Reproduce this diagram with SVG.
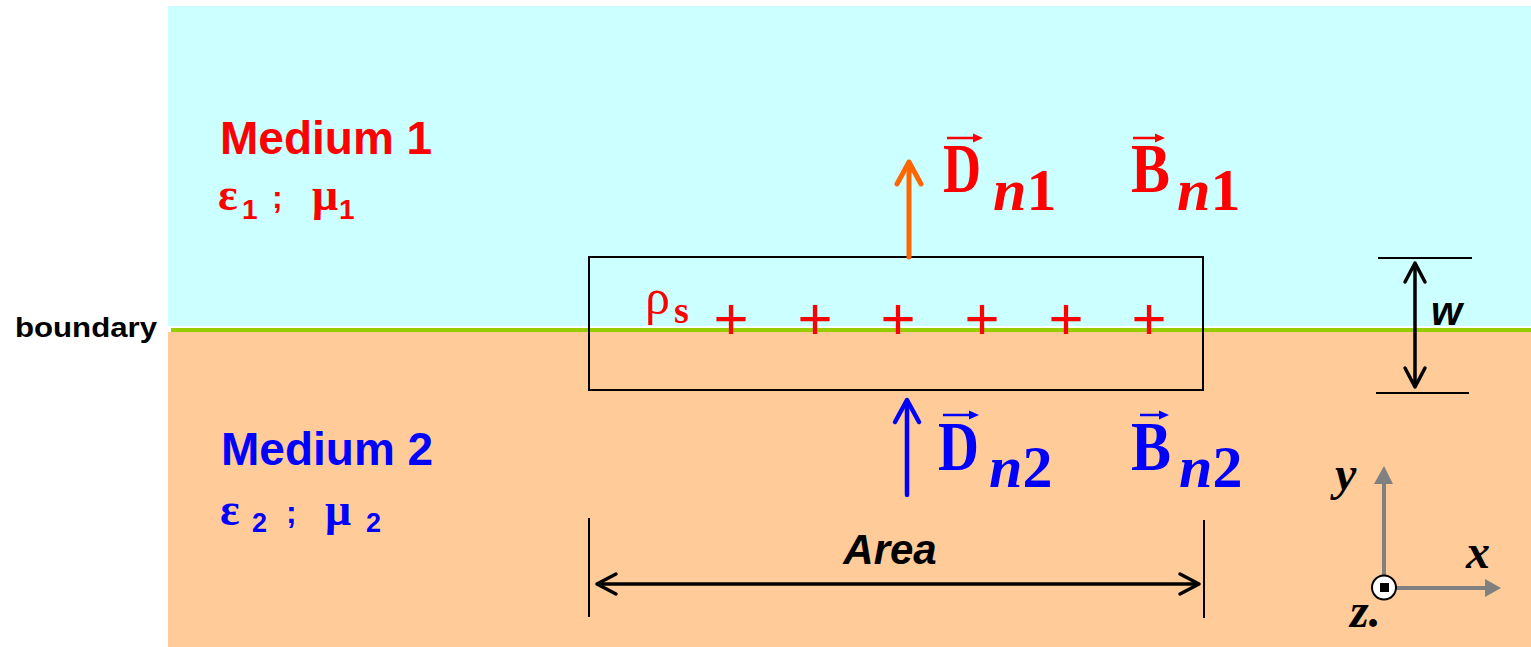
<svg xmlns="http://www.w3.org/2000/svg" width="1531" height="647" viewBox="0 0 1531 647">
<style>
.sans{font-family:"Liberation Sans",Arial,sans-serif;font-weight:bold}
.serif{font-family:"Liberation Serif","Times New Roman",serif}
.greek{font-family:"Liberation Serif","Times New Roman",serif;font-weight:bold;font-size:46px}
.big{font-family:"Liberation Serif","Times New Roman",serif;font-weight:bold;font-size:70px}
.sub{font-family:"Liberation Serif","Times New Roman",serif;font-weight:bold;font-size:60px}
.red{fill:#FF0000}
.blue{fill:#0000FF}
.thin{stroke:#000;stroke-width:2;fill:none}
.dim{stroke:#000;stroke-width:3.5;fill:none;stroke-linecap:round;stroke-linejoin:round}
.vec{stroke-width:2.5;fill:none}
.axis{stroke:#808080;stroke-width:4;fill:none}
.plus{font-family:"Liberation Sans",Arial,sans-serif;font-size:60px;fill:#FF0000;text-anchor:middle}
</style>
<rect width="1531" height="647" fill="#FFFFFF"/>
<g id="medium1-region"><rect x="168" y="6" width="1363" height="320" fill="#CCFFFF"/></g>
<g id="medium2-region"><rect x="168" y="332" width="1363" height="315" fill="#FFCC99"/></g>
<g id="boundary-line"><rect x="171" y="328" width="1360" height="4" fill="#99CC00"/></g>
<g id="boundary-label"><text x="15" y="337" class="sans" font-size="28" textLength="142" lengthAdjust="spacingAndGlyphs" fill="#000">boundary</text></g>

<g id="medium1-label">
<text x="220" y="154" class="sans red" font-size="46">Medium 1</text>
<text x="218" y="210" class="greek red">ε</text>
<text x="242" y="219" class="sans red" font-size="28">1</text>
<text x="272" y="208" class="sans red" font-size="32">;</text>
<text x="312" y="210" class="greek red">μ</text>
<text x="339" y="219" class="sans red" font-size="28">1</text>
</g>

<g id="medium2-label">
<text x="221" y="465" class="sans blue" font-size="46">Medium 2</text>
<text x="220" y="525" class="greek blue">ε</text>
<text x="252" y="532" class="sans blue" font-size="27">2</text>
<text x="286" y="523" class="sans blue" font-size="32">;</text>
<text x="325" y="525" class="greek blue">μ</text>
<text x="366" y="532" class="sans blue" font-size="27">2</text>
</g>

<g id="pillbox">
<rect x="589" y="257" width="614" height="133" class="thin"/>
</g>

<g id="surface-charge">
<text x="645" y="314" class="serif red" font-size="50">ρ</text>
<text x="674" y="323" class="serif red" font-size="38" font-weight="bold">s</text>
<text x="731" y="339" class="plus">+</text>
<text x="815" y="339" class="plus">+</text>
<text x="898" y="339" class="plus">+</text>
<text x="982" y="339" class="plus">+</text>
<text x="1066" y="339" class="plus">+</text>
<text x="1149" y="339" class="plus">+</text>
</g>

<g id="Dn1">
<text x="943" y="192" class="big red" textLength="38" lengthAdjust="spacingAndGlyphs">D</text>
<text x="993" y="210" class="sub red"><tspan font-style="italic">n</tspan>1</text>
<line x1="947" y1="138" x2="975" y2="138" class="vec" stroke="#FF0000"/>
<polygon points="973,133.5 983,138 973,142.5" class="red"/>
</g>
<g id="Bn1">
<text x="1131" y="192" class="big red" textLength="39" lengthAdjust="spacingAndGlyphs">B</text>
<text x="1177" y="210" class="sub red"><tspan font-style="italic">n</tspan>1</text>
<line x1="1133" y1="138" x2="1157" y2="138" class="vec" stroke="#FF0000"/>
<polygon points="1155,133.5 1165,138 1155,142.5" class="red"/>
</g>
<g id="Dn2">
<text x="938" y="470" class="big blue" textLength="41" lengthAdjust="spacingAndGlyphs">D</text>
<text x="989" y="487" class="sub blue"><tspan font-style="italic">n</tspan>2</text>
<line x1="943" y1="415" x2="971" y2="415" class="vec" stroke="#0000FF"/>
<polygon points="969,410.5 979,415 969,419.5" class="blue"/>
</g>
<g id="Bn2">
<text x="1131" y="470" class="big blue" textLength="40" lengthAdjust="spacingAndGlyphs">B</text>
<text x="1179" y="487" class="sub blue"><tspan font-style="italic">n</tspan>2</text>
<line x1="1140" y1="415" x2="1161" y2="415" class="vec" stroke="#0000FF"/>
<polygon points="1159,410.5 1169,415 1159,419.5" class="blue"/>
</g>

<g id="connectors">
<g id="D1-arrow" stroke="#FF6600" stroke-width="5" fill="none" stroke-linecap="round" stroke-linejoin="round">
<line x1="909" y1="257" x2="909" y2="163"/>
<polyline points="897,184 909,162 921,184"/>
</g>
<g id="D2-arrow" stroke="#0000FF" stroke-width="4.5" fill="none" stroke-linecap="round" stroke-linejoin="round">
<line x1="907" y1="495" x2="907" y2="401"/>
<polyline points="895,422 907,400 919,422"/>
</g>
<g id="w-dimension">
<line x1="1378" y1="258" x2="1472" y2="258" class="thin"/>
<line x1="1376" y1="393" x2="1469" y2="393" class="thin"/>
<line x1="1415" y1="264" x2="1415" y2="386" class="dim"/>
<polyline points="1405,282 1415,263 1425,282" class="dim"/>
<polyline points="1405,368 1415,387 1425,368" class="dim"/>
</g>
<g id="area-dimension">
<line x1="589" y1="518" x2="589" y2="617" class="thin"/>
<line x1="1204" y1="520" x2="1204" y2="618" class="thin"/>
<line x1="598" y1="584" x2="1198" y2="584" class="dim"/>
<polyline points="616,574 597,584 616,594" class="dim"/>
<polyline points="1180,574 1199,584 1180,594" class="dim"/>
</g>
<g id="axes">
<line x1="1384" y1="576" x2="1384" y2="480" class="axis"/>
<polygon points="1374,484 1384,466 1393,484" fill="#808080"/>
<line x1="1396" y1="588" x2="1488" y2="588" class="axis"/>
<polygon points="1485,579 1501,588 1485,597" fill="#808080"/>
</g>
</g>

<g id="w-label"><text x="1431" y="325" class="sans" font-style="italic" font-size="40" fill="#000">w</text></g>
<g id="area-label"><text x="890" y="564" class="sans" font-style="italic" font-size="42" fill="#000" text-anchor="middle">Area</text></g>

<g id="z-axis">
<circle cx="1384" cy="587.5" r="12" fill="#FFFFFF" stroke="#000" stroke-width="2"/>
<rect x="1380" y="583" width="9" height="9" fill="#000"/>
</g>
<g id="axis-labels">
<text x="1335" y="490" class="serif" font-weight="bold" font-style="italic" font-size="48" fill="#000">y</text>
<text x="1466" y="568" class="serif" font-weight="bold" font-style="italic" font-size="48" fill="#000">x</text>
<text x="1350" y="627" class="serif" font-weight="bold" font-style="italic" font-size="48" fill="#000">z.</text>
</g>
</svg>
